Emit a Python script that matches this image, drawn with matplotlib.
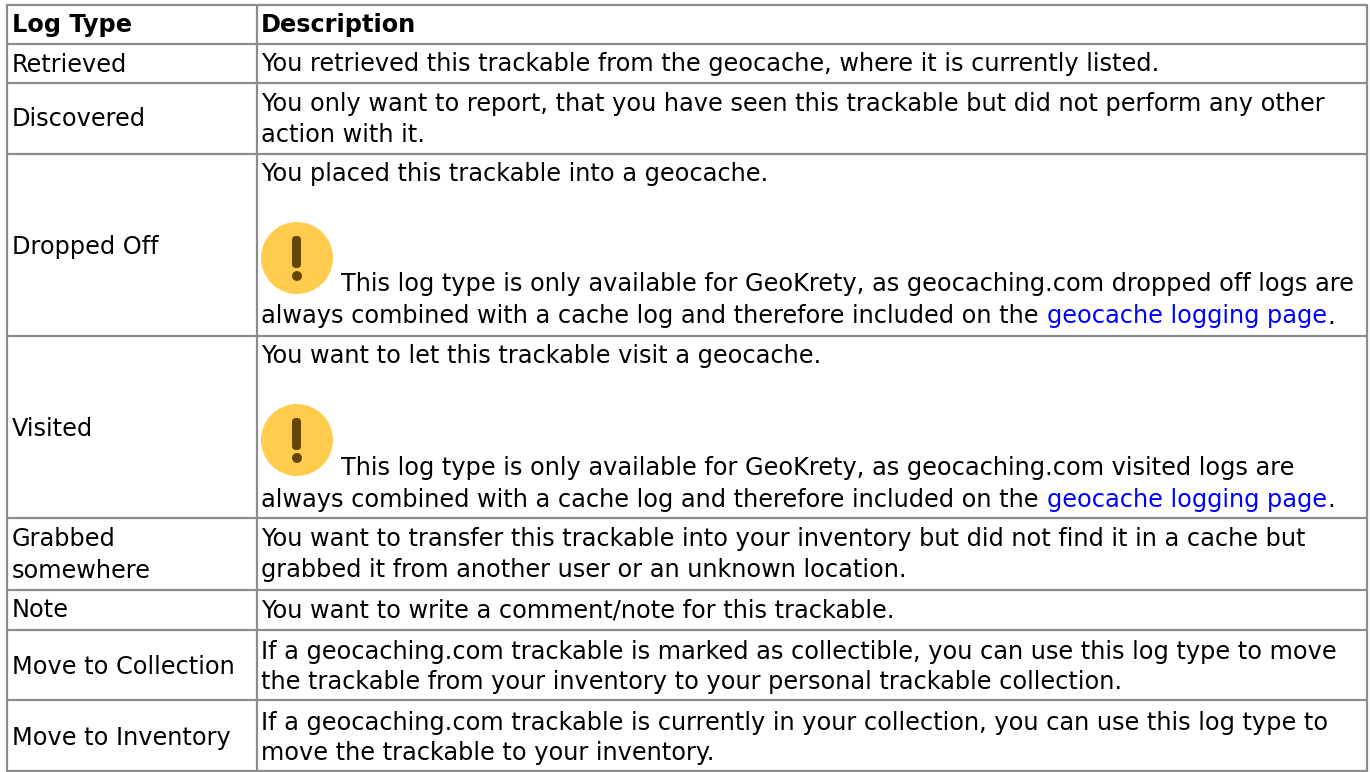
import matplotlib
matplotlib.use('Agg')
import matplotlib.pyplot as plt
from matplotlib.patches import Circle, FancyBboxPatch

W, H = 1370, 772
DPI = 100
FS = 17.3
BLUE = '#0000ff'
GREY = '#8c8c8c'

# table geometry in image pixels
col_edges = [7, 257, 1367]
row_edges = [4.5, 43.5, 82.5, 154, 336, 518, 590, 630, 700, 771]

headers = ['Log Type', 'Description']
header_base = 32

# (text, baseline) for the first column
log_types = [
    ('Retrieved', 71.5), ('Discovered', 126.5), ('Dropped Off', 254), ('Visited', 436),
    ('Grabbed', 546), ('somewhere', 578), ('Note', 617),
    ('Move to Collection', 673.5), ('Move to Inventory', 745),
]

# (text, baseline) for the second column
descriptions = [
    ('You retrieved this trackable from the geocache, where it is currently listed.', 71.5),
    ('You only want to report, that you have seen this trackable but did not perform any other', 111),
    ('action with it.', 142),
    ('You placed this trackable into a geocache.', 181.5),
    ('always combined with a cache log and therefore included on the', 323.5),
    ('You want to let this trackable visit a geocache.', 363.5),
    ('always combined with a cache log and therefore included on the', 507),
    ('You want to transfer this trackable into your inventory but did not find it in a cache but', 546),
    ('grabbed it from another user or an unknown location.', 577),
    ('You want to write a comment/note for this trackable.', 617),
    ('If a geocaching.com trackable is marked as collectible, you can use this log type to move', 659),
    ('the trackable from your inventory to your personal trackable collection.', 689),
    ('If a geocaching.com trackable is currently in your collection, you can use this log type to', 730),
    ('move the trackable to your inventory.', 760),
]

# text that follows an icon
icon_lines = [
    ('This log type is only available for GeoKrety, as geocaching.com dropped off logs are', 291.5),
    ('This log type is only available for GeoKrety, as geocaching.com visited logs are', 475),
]
link_text = 'geocache logging page'
link_base = [323.5, 507]
icon_centres = [258, 440]

fig = plt.figure(figsize=(W / DPI, H / DPI), dpi=DPI)
ax = fig.add_axes([0, 0, 1, 1])
ax.set_xlim(0, W)
ax.set_ylim(H, 0)
ax.axis('off')

ax.hlines(row_edges, col_edges[0] - 1, col_edges[-1] + 1, color=GREY, lw=1.6)
ax.vlines(col_edges, row_edges[0] - 1, H, color=GREY, lw=1.6)

for x, h in zip([12, 261], headers):
    ax.text(x, header_base, h, fontsize=FS, fontweight='bold', va='baseline', color='black')

for t, y in log_types:
    ax.text(12, y, t, fontsize=FS, va='baseline', color='black')
for t, y in descriptions:
    ax.text(261, y, t, fontsize=FS, va='baseline', color='black')
for t, y in icon_lines:
    ax.text(341, y, t, fontsize=FS, va='baseline', color='black')

# link goes right after the text on its line
for y in link_base:
    ax.text(1047.5, y, link_text, fontsize=FS, va='baseline', color=BLUE)
    ax.text(1327, y, '.', fontsize=FS, va='baseline', color='black')

# warning icons
for cy in icon_centres:
    ax.add_patch(Circle((297, cy), 36, fc='#ffcc4d', ec='none'))
    ax.add_patch(FancyBboxPatch((294.5, cy - 19.5), 4, 27,
                                boxstyle='round,pad=2.5,rounding_size=4',
                                fc='#664500', ec='none'))
    ax.add_patch(Circle((297, cy + 18), 5, fc='#664500', ec='none'))

fig.savefig('out.png', dpi=DPI, facecolor='white')
